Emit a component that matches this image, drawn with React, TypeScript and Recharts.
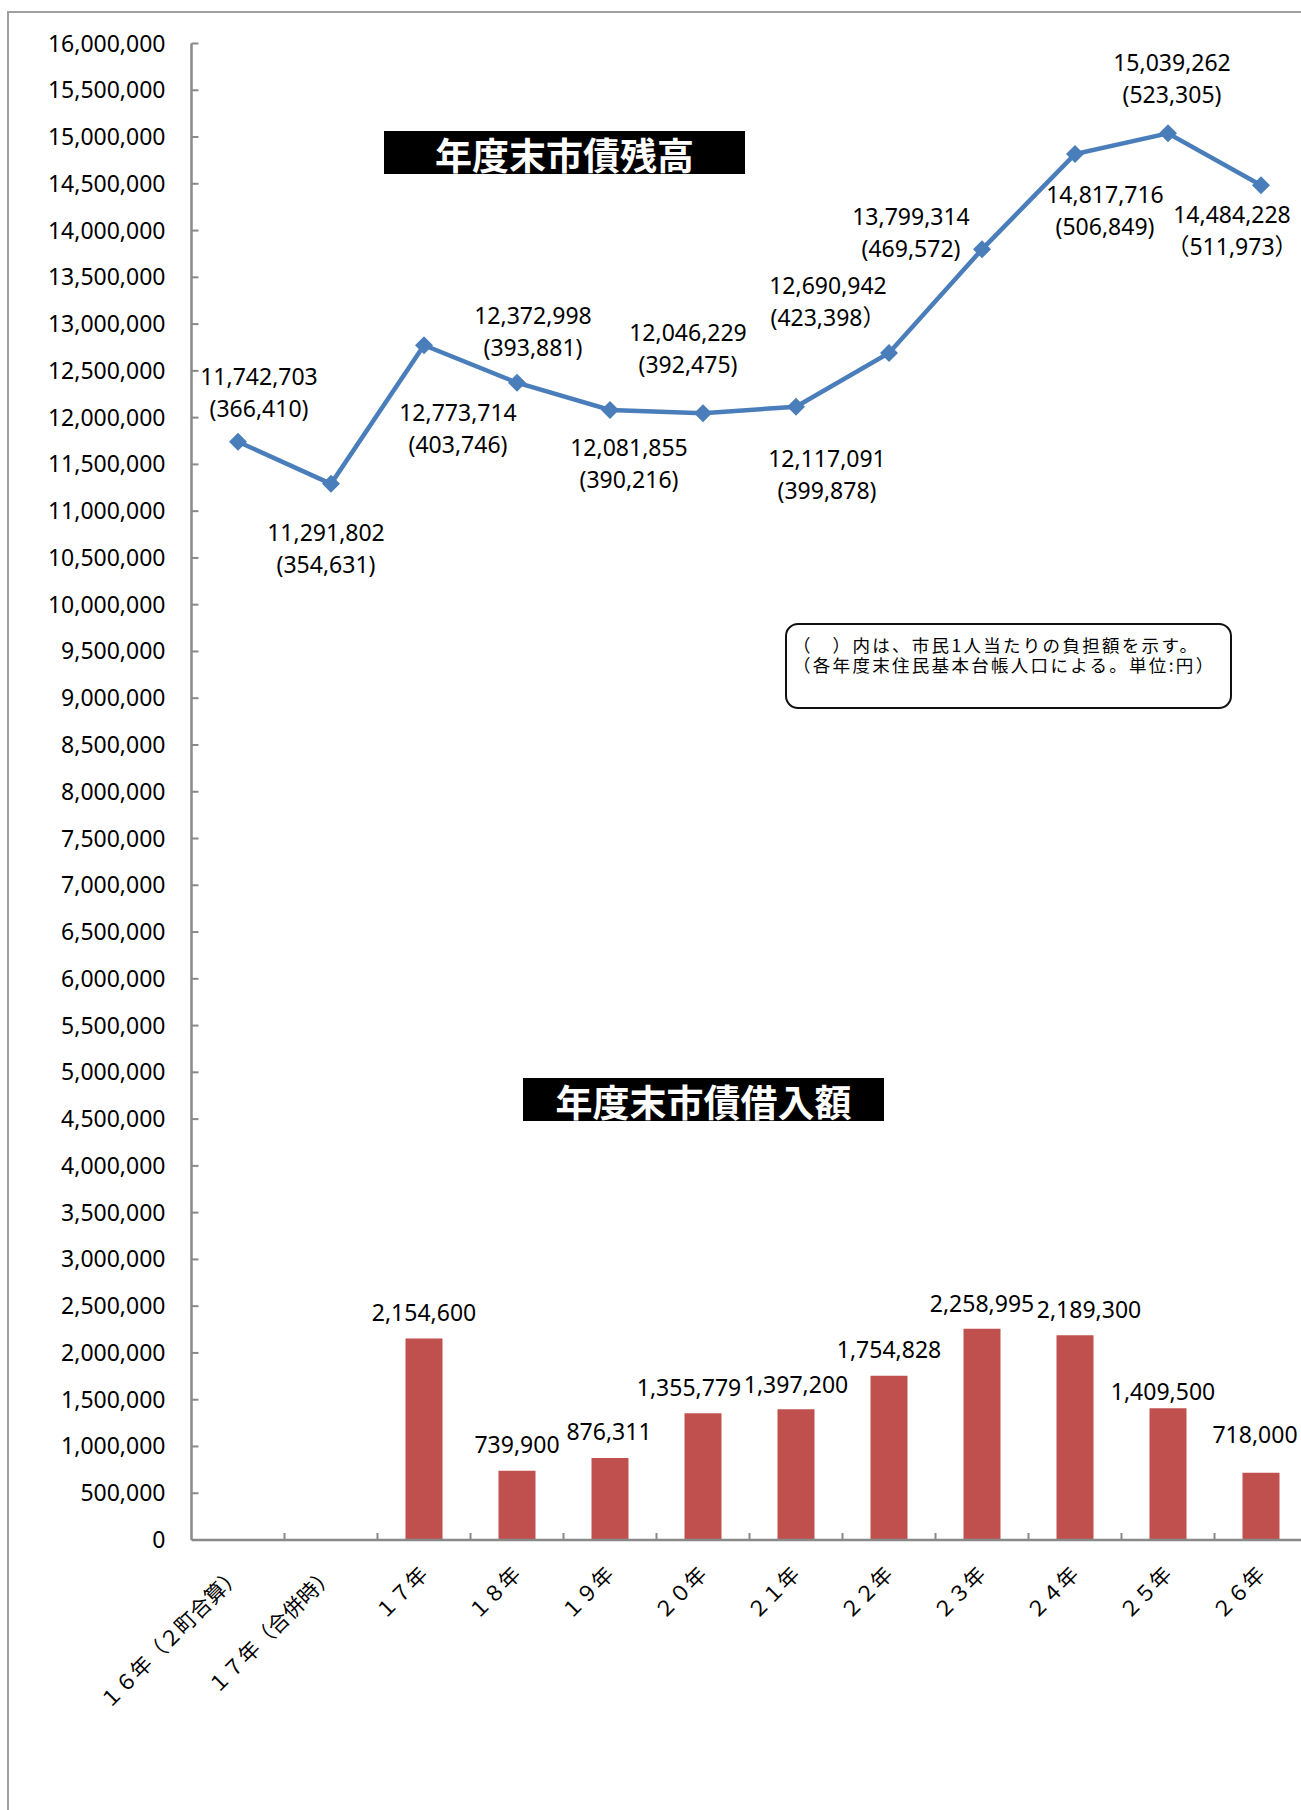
import { ComposedChart, Bar, Line, XAxis, YAxis, LabelList } from "recharts";

// 年度（カテゴリ）
const years = [
  "１６年（２町合算）",
  "１７年（合併時）",
  "１７年",
  "１８年",
  "１９年",
  "２０年",
  "２１年",
  "２２年",
  "２３年",
  "２４年",
  "２５年",
  "２６年",
];

// 年度末市債残高（千円）
const debtBalance = [
  11742703, 11291802, 12773714, 12372998, 12081855, 12046229, 12117091,
  12690942, 13799314, 14817716, 15039262, 14484228,
];

// 市民1人当たりの負担額（円）
const perCapita = [
  366410, 354631, 403746, 393881, 390216, 392475, 399878, 423398, 469572,
  506849, 523305, 511973,
];

// 年度末市債借入額（千円）
const borrowing = [
  null, null, 2154600, 739900, 876311, 1355779, 1397200, 1754828, 2258995,
  2189300, 1409500, 718000,
];

const yTicks = [
  0, 500000, 1000000, 1500000, 2000000, 2500000, 3000000, 3500000, 4000000,
  4500000, 5000000, 5500000, 6000000, 6500000, 7000000, 7500000, 8000000,
  8500000, 9000000, 9500000, 10000000, 10500000, 11000000, 11500000, 12000000,
  12500000, 13000000, 13500000, 14000000, 14500000, 15000000, 15500000,
  16000000,
];

const data = years.map((year, i) => ({
  year,
  balance: debtBalance[i],
  borrow: borrowing[i],
}));

// label placement (px offsets from the point / bar top)
const lineLabelOffsets = [
  [21, -65], [-5, 49], [34, 68], [16, -67], [19, 38], [-15, -80],
  [31, 52], [-61, -67], [-71, -32], [30, 41], [4, -70], [-29, 30],
];
const barLabelOffsets = [
  [0, 0], [0, 0], [0, -25], [0, -26], [-1, -26], [-14, -25],
  [0, -24], [0, -26], [0, -25], [14, -25], [-5, -16], [-6, -38],
];
const fullWidthParens = new Set([11]);
const fullWidthClose = new Set([7]);

const LINE = "#4A7EBB";
const BAR = "#C0504D";
const AXIS = "#898989";
const NUM_FONT = "'Noto Sans', 'Noto Sans CJK JP', sans-serif";
const JP_FONT = "'Noto Sans CJK JP', sans-serif";

const CHART_W = 1340;
const CHART_H = 1810;
const MARGIN = { top: 43.5, right: 32.5, bottom: 240, left: 131.5 };
const PLOT_W = CHART_W - MARGIN.left - 60 - MARGIN.right;

const fmt = (v: number) => v.toLocaleString("en-US");

function YTick({ x, y, payload }: any) {
  return (
    <g>
      {payload.value > 0 && (
        <line x1={x} x2={x + 7} y1={y} y2={y} stroke={AXIS} strokeWidth={2} />
      )}
      <text
        x={x - 26}
        y={y + 8}
        textAnchor="end"
        fontSize={23}
        fontFamily={NUM_FONT}
        fill="#000"
      >
        {fmt(payload.value)}
      </text>
    </g>
  );
}

function XTick({ x, y, payload, index }: any) {
  const band = PLOT_W / years.length;
  return (
    <g>
      {index > 0 && (
        <line
          x1={x - band / 2}
          x2={x - band / 2}
          y1={y}
          y2={y - 7}
          stroke={AXIS}
          strokeWidth={2}
        />
      )}
      <text
        transform={`translate(${x + 5},${y + 36}) rotate(-45)`}
        textAnchor="end"
        fontSize={21}
        fontFamily={JP_FONT}
        fill="#000"
      >
        {payload.value}
      </text>
    </g>
  );
}

function Diamond({ cx, cy }: any) {
  const r = 9;
  return (
    <polygon
      points={`${cx},${cy - r} ${cx + r},${cy} ${cx},${cy + r} ${cx - r},${cy}`}
      fill={LINE}
    />
  );
}

function LineLabel(p: any) {
  const vb = p.viewBox ?? p;
  const i = debtBalance.indexOf(p.value);
  if (i < 0) return null;
  const cx = (vb.x ?? p.x) + (vb.width ?? 0) / 2;
  const cy = vb.y ?? p.y;
  const [dx, dy] = lineLabelOffsets[i];
  let second = "(" + fmt(perCapita[i]) + ")";
  if (fullWidthParens.has(i)) second = "（" + fmt(perCapita[i]) + "）";
  else if (fullWidthClose.has(i)) second = "(" + fmt(perCapita[i]) + "）";
  return (
    <g fontSize={23} fontFamily={NUM_FONT} fill="#000" textAnchor="middle">
      <text x={cx + dx} y={cy + dy + 8}>
        {fmt(p.value)}
      </text>
      <text x={cx + dx} y={cy + dy + 40}>
        {second}
      </text>
    </g>
  );
}

function BarLabel(p: any) {
  if (p.value == null) return null;
  const vb = p.viewBox ?? p;
  const i = borrowing.indexOf(p.value);
  if (i < 0) return null;
  const [dx, dy] = barLabelOffsets[i];
  const cx = vb.x + vb.width / 2;
  return (
    <text
      x={cx + dx}
      y={vb.y + dy + 8}
      textAnchor="middle"
      fontSize={23}
      fontFamily={NUM_FONT}
      fill="#000"
    >
      {fmt(p.value)}
    </text>
  );
}

const titleStyle = (left: number, top: number): React.CSSProperties => ({
  position: "absolute",
  left,
  top,
  width: 361,
  height: 43,
  background: "#000",
  color: "#fff",
  fontFamily: JP_FONT,
  fontWeight: 700,
  fontSize: 37,
  lineHeight: "43px",
  textAlign: "center",
  whiteSpace: "nowrap",
});

export default function App() {
  return (
    <div
      style={{
        position: "fixed",
        left: 0,
        top: 0,
        width: 1301,
        height: 1810,
        overflow: "hidden",
        background: "#fff",
      }}
    >
      <div
        style={{
          position: "absolute",
          left: 7,
          top: 11,
          width: 1400,
          height: 1900,
          borderTop: "2px solid #a0a0a0",
          borderLeft: "2px solid #a0a0a0",
        }}
      />
      <div style={{ position: "absolute", left: 0, top: 0 }}>
        <ComposedChart width={CHART_W} height={CHART_H} data={data} margin={MARGIN}>
          <XAxis
            dataKey="year"
            interval={0}
            tickSize={0}
            tickMargin={0}
            tickLine={false}
            axisLine={{ stroke: AXIS, strokeWidth: 2.5 }}
            tick={<XTick />}
            height={30}
          />
          <YAxis
            domain={[0, 16000000]}
            ticks={yTicks}
            interval={0}
            tickSize={0}
            tickMargin={0}
            tickLine={false}
            axisLine={{ stroke: AXIS, strokeWidth: 2.5 }}
            tick={<YTick />}
            width={60}
          />
          <Bar dataKey="borrow" fill={BAR} barSize={37} isAnimationActive={false}>
            <LabelList dataKey="borrow" content={(p: any) => <BarLabel {...p} />} />
          </Bar>
          <Line
            dataKey="balance"
            stroke={LINE}
            strokeWidth={4.5}
            dot={(p: any) => <Diamond key={p.index} {...p} />}
            activeDot={false}
            isAnimationActive={false}
          >
            <LabelList dataKey="balance" content={(p: any) => <LineLabel {...p} />} />
          </Line>
        </ComposedChart>
      </div>
      <div style={titleStyle(384, 131)}>
        <span style={{ position: "relative", top: 2 }}>年度末市債残高</span>
      </div>
      <div style={titleStyle(523, 1078)}>
        <span style={{ position: "relative", top: 2 }}>年度末市債借入額</span>
      </div>
      <div
        style={{
          position: "absolute",
          left: 785,
          top: 623,
          width: 447,
          height: 86,
          border: "2px solid #111",
          borderRadius: 13,
          boxSizing: "border-box",
          fontFamily: JP_FONT,
          fontSize: 17.5,
          letterSpacing: 2.3,
          lineHeight: "20px",
          padding: "10px 0 0 6px",
          color: "#000",
          whiteSpace: "nowrap",
        }}
      >
        <div>（　）内は、市民1人当たりの負担額を示す。</div>
        <div>（各年度末住民基本台帳人口による。単位:円）</div>
      </div>
    </div>
  );
}
